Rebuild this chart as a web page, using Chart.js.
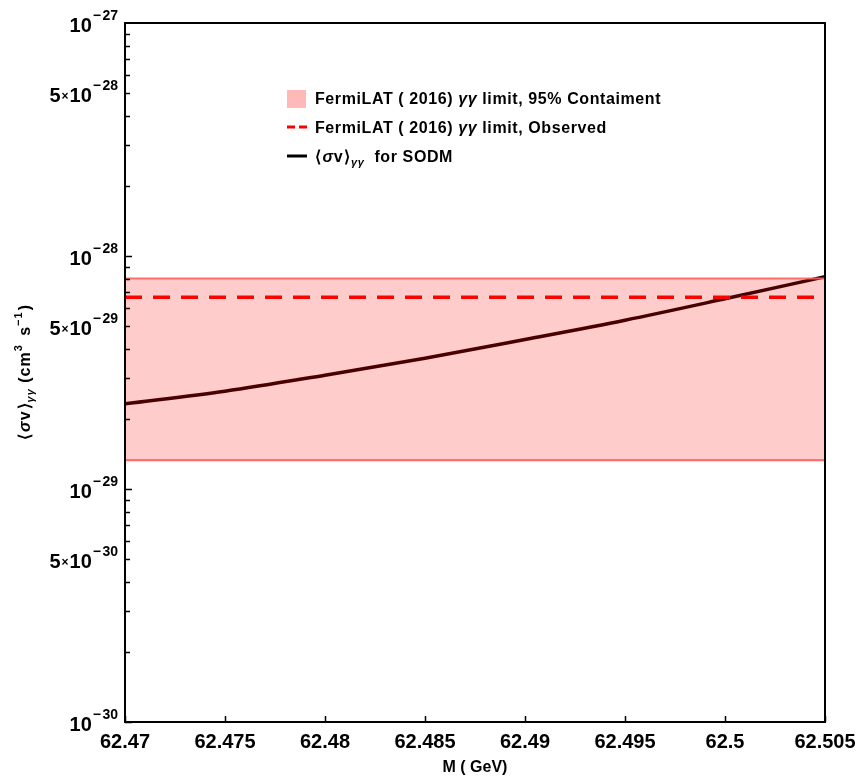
<!DOCTYPE html>
<html>
<head>
<meta charset="utf-8">
<script src="https://cdn.jsdelivr.net/npm/chart.js@4.4.1/dist/chart.umd.min.js"></script>
<style>
  html, body { margin: 0; padding: 0; background: #fff; }
  #wrap { width: 858px; height: 778px; }
</style>
</head>
<body>
<div id="wrap"><canvas id="sigmaChart"></canvas></div>
<script>
// data
const massGeV = [62.47, 62.475, 62.48, 62.485, 62.49, 62.495, 62.5, 62.505];
const sodmSigmaV = [2.32e-29, 2.63e-29, 3.08e-29, 3.64e-29, 4.38e-29, 5.3e-29, 6.55e-29, 8.15e-29];

const bandUpper = 8.0e-29;    // FermiLAT 95% containment, top
const bandLower = 1.33e-29;   // FermiLAT 95% containment, bottom
const observedLimit = 6.65e-29;

const xTicks = [62.47, 62.475, 62.48, 62.485, 62.49, 62.495, 62.5, 62.505];
const xTickLabels = ["62.47", "62.475", "62.48", "62.485", "62.49", "62.495", "62.5", "62.505"];
const yLabelTicks = [1e-30, 5e-30, 1e-29, 5e-29, 1e-28, 5e-28, 1e-27];

const FONT = '"Liberation Sans", Arial, Helvetica, sans-serif';
const xMin = xTicks[0], xMax = xTicks[xTicks.length - 1];

function flat(v) {
  return [{ x: xMin, y: v }, { x: xMax, y: v }];
}

// draw text made of pieces (sub/superscripts, italics)
function richWidth(ctx, parts) {
  let w = 0;
  parts.forEach((p) => {
    ctx.font = p.font;
    w += ctx.measureText(p.t).width + (p.gap || 0);
  });
  return w;
}
function drawRich(ctx, parts, x, y) {
  let cx = x;
  parts.forEach((p) => {
    ctx.font = p.font;
    ctx.fillText(p.t, cx, y + (p.dy || 0));
    cx += ctx.measureText(p.t).width + (p.gap || 0);
  });
}

function yLabelParts(v) {
  const exp = Math.round(Math.floor(Math.log10(v) + 1e-9));
  const mant = Math.round(v / Math.pow(10, exp));
  const big = "bold 20px " + FONT;
  const small = "bold 14px " + FONT;
  const parts = [];
  if (mant !== 1) {
    parts.push({ t: String(mant), font: big, gap: 1 });
    parts.push({ t: "×", font: "bold 12px " + FONT, dy: -2, gap: 1 });
  }
  parts.push({ t: "10", font: big, gap: 1 });
  parts.push({ t: "−", font: small, dy: -12, gap: 1.5 });
  parts.push({ t: String(-exp), font: small, dy: -12 });
  return parts;
}

const framePlugin = {
  id: "framePlugin",
  afterDraw(chart) {
    const ctx = chart.ctx;
    const a = chart.chartArea;
    const xs = chart.scales.x, ys = chart.scales.y;
    ctx.save();
    ctx.strokeStyle = "#000";
    ctx.fillStyle = "#000";

    // frame
    ctx.lineWidth = 2;
    ctx.strokeRect(a.left, a.top, a.right - a.left, a.bottom - a.top);

    // inward ticks, x
    ctx.lineWidth = 1.5;
    ctx.beginPath();
    xTicks.forEach((v) => {
      const px = Math.round(xs.getPixelForValue(v)) + 0.5;
      ctx.moveTo(px, a.bottom);
      ctx.lineTo(px, a.bottom - 6);
    });
    // inward ticks, y (log)
    for (let d = -30; d <= -28; d++) {
      for (let m = 1; m <= 9; m++) {
        const py = Math.round(ys.getPixelForValue(m * Math.pow(10, d))) + 0.5;
        ctx.moveTo(a.left, py);
        ctx.lineTo(a.left + (m === 1 ? 7 : 5), py);
      }
    }
    ctx.stroke();

    // y tick labels with exponents
    ctx.textBaseline = "alphabetic";
    ctx.textAlign = "left";
    yLabelTicks.forEach((v) => {
      const py = ys.getPixelForValue(v);
      const parts = yLabelParts(v);
      const w = richWidth(ctx, parts);
      drawRich(ctx, parts, 118 - w, py + 9);
    });

    // y axis title, rotated
    ctx.letterSpacing = "1px";
    const tParts = [
      { t: "⟨", font: "bold 16px " + FONT, gap: 1 },
      { t: "σ", font: "italic bold 16px " + FONT },
      { t: "v", font: "bold 16px " + FONT, gap: 1 },
      { t: "⟩", font: "bold 16px " + FONT },
      { t: "γγ", font: "italic bold 11px " + FONT, dy: 4 },
      { t: " (cm", font: "bold 16px " + FONT },
      { t: "3", font: "bold 11px " + FONT, dy: -8, gap: 3 },
      { t: " s", font: "bold 16px " + FONT },
      { t: "−1", font: "bold 11px " + FONT, dy: -8, gap: 1 },
      { t: ")", font: "bold 16px " + FONT }
    ];
    const tw = richWidth(ctx, tParts);
    ctx.save();
    ctx.translate(30, 372);
    ctx.rotate(-Math.PI / 2);
    drawRich(ctx, tParts, -tw / 2, 0);
    ctx.restore();

    // legend inside plot
    const lx = 287, tx = 315;
    ctx.fillStyle = "#ffb9b9";
    ctx.fillRect(lx, 90, 19, 18);

    ctx.strokeStyle = "#ff0000";
    ctx.lineWidth = 3;
    ctx.setLineDash([8, 4]);
    ctx.beginPath();
    ctx.moveTo(lx, 127);
    ctx.lineTo(lx + 20, 127);
    ctx.stroke();
    ctx.setLineDash([]);

    ctx.strokeStyle = "#000";
    ctx.beginPath();
    ctx.moveTo(lx, 156);
    ctx.lineTo(lx + 20, 156);
    ctx.stroke();

    ctx.fillStyle = "#000";
    ctx.letterSpacing = "0.6px";
    const f = "bold 16px " + FONT;
    const fi = "italic bold 16px " + FONT;
    drawRich(ctx, [
      { t: "FermiLAT ( 2016) ", font: f },
      { t: "γγ", font: fi },
      { t: " limit, 95% Contaiment", font: f }
    ], tx, 104);
    drawRich(ctx, [
      { t: "FermiLAT ( 2016) ", font: f },
      { t: "γγ", font: fi },
      { t: " limit, Observed", font: f }
    ], tx, 133);
    drawRich(ctx, [
      { t: "⟨", font: f, gap: 1 },
      { t: "σ", font: fi },
      { t: "v", font: f, gap: 1 },
      { t: "⟩", font: f },
      { t: "γγ", font: "italic bold 11px " + FONT, dy: 4 },
      { t: "  for SODM", font: f }
    ], tx, 162);
    ctx.letterSpacing = "0px";

    ctx.restore();
  }
};

const ctx = document.getElementById("sigmaChart").getContext("2d");
new Chart(ctx, {
  type: "line",
  data: {
    datasets: [
      {
        label: "band upper",
        data: flat(bandUpper),
        borderColor: "rgba(255, 95, 95, 0.9)",
        borderWidth: 2,
        backgroundColor: "rgba(255, 0, 0, 0.2)",
        fill: "+1",
        pointRadius: 0
      },
      {
        label: "band lower",
        data: flat(bandLower),
        borderColor: "rgba(255, 95, 95, 0.9)",
        borderWidth: 2,
        fill: false,
        pointRadius: 0
      },
      {
        label: "FermiLAT (2016) limit, Observed",
        data: flat(observedLimit),
        borderColor: "#ff0000",
        borderWidth: 3.5,
        borderDash: [17, 11],
        fill: false,
        pointRadius: 0
      },
      {
        label: "SODM",
        data: massGeV.map((m, i) => ({ x: m, y: sodmSigmaV[i] })),
        borderColor: "#1c0000",
        borderWidth: 3.5,
        cubicInterpolationMode: "monotone",
        fill: false,
        pointRadius: 0
      }
    ]
  },
  options: {
    responsive: true,
    maintainAspectRatio: false,
    animation: false,
    layout: { padding: { top: 23, right: 33, left: 0, bottom: 0 } },
    plugins: {
      legend: { display: false },
      tooltip: { enabled: false }
    },
    scales: {
      x: {
        type: "linear",
        min: xMin,
        max: xMax,
        afterBuildTicks: (scale) => {
          scale.ticks = xTicks.map((v) => ({ value: v }));
        },
        afterFit: (scale) => {
          scale.height = 56;
          scale.paddingLeft = 0;
          scale.paddingRight = 0;
        },
        grid: { display: false, drawTicks: false },
        border: { display: false },
        ticks: {
          autoSkip: false,
          maxRotation: 0,
          padding: 8,
          color: "#000",
          font: { family: FONT, size: 20, weight: "bold" },
          callback: (value, index) => xTickLabels[index]
        },
        title: {
          display: true,
          text: "M ( GeV)",
          color: "#000",
          font: { family: FONT, size: 16, weight: "bold" },
          padding: { top: 0, bottom: 1 }
        }
      },
      y: {
        type: "logarithmic",
        min: 1e-30,
        max: 1e-27,
        afterFit: (scale) => { scale.width = 125; },
        grid: { display: false, drawTicks: false },
        border: { display: false },
        ticks: { display: false }
      }
    }
  },
  plugins: [framePlugin]
});
</script>
</body>
</html>
